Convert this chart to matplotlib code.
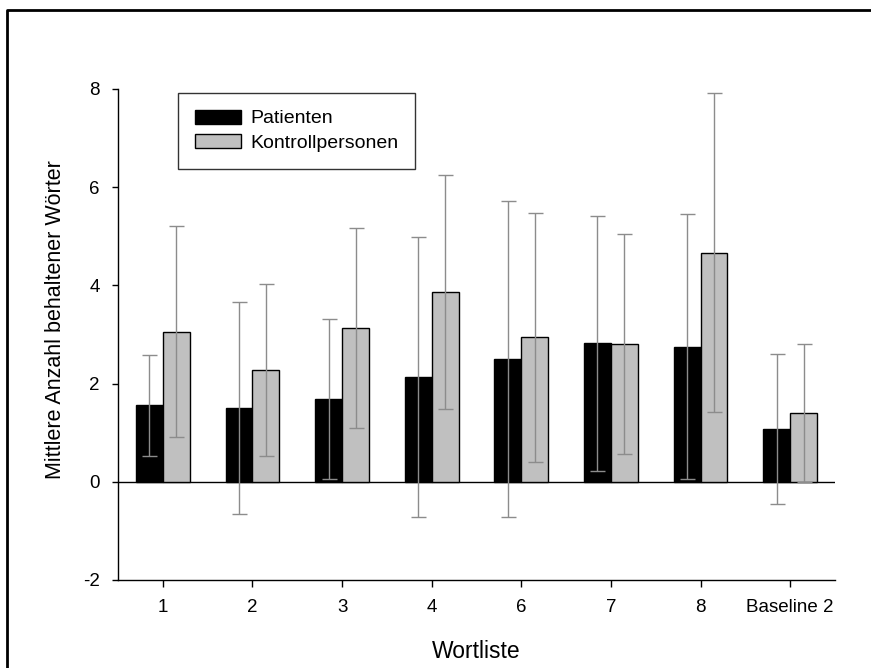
import matplotlib
matplotlib.use("Agg")
import matplotlib.pyplot as plt
from matplotlib.lines import Line2D
import numpy as np

plt.rcParams['font.family'] = ['Liberation Sans', 'DejaVu Sans']
plt.rcParams['axes.unicode_minus'] = False

categories = ["1", "2", "3", "4", "6", "7", "8", "Baseline 2"]
patienten_mean = [1.56, 1.50, 1.69, 2.13, 2.50, 2.82, 2.75, 1.07]
patienten_sd = [1.03, 2.16, 1.63, 2.85, 3.22, 2.59, 2.70, 1.53]
kontroll_mean = [3.06, 2.27, 3.13, 3.87, 2.94, 2.80, 4.67, 1.40]
kontroll_sd = [2.15, 1.75, 2.03, 2.38, 2.53, 2.24, 3.24, 1.40]

W, H = 871, 668
fig = plt.figure(figsize=(W / 100, H / 100), dpi=100)

# axes box in pixel coordinates
x0, x1 = 118, 835
y_top, y_bot = 89, 580
ax = fig.add_axes([x0 / W, 1 - y_bot / H, (x1 - x0) / W, (y_bot - y_top) / H])

x = np.arange(len(categories))
bw = 0.3
err_kw = dict(ecolor="#8c8c8c", elinewidth=1.0, capsize=5.4, capthick=1.0)

ax.bar(x - bw / 2, patienten_mean, bw, color="black", edgecolor="black",
       linewidth=1.0, label="Patienten", zorder=2)
ax.bar(x + bw / 2, kontroll_mean, bw, color="#c0c0c0", edgecolor="black",
       linewidth=1.0, label="Kontrollpersonen", zorder=2)
ax.errorbar(x - bw / 2, patienten_mean, yerr=patienten_sd, fmt="none", zorder=3, **err_kw)
ax.errorbar(x + bw / 2, kontroll_mean, yerr=kontroll_sd, fmt="none", zorder=3, **err_kw)

ax.axhline(0, color="black", linewidth=1.0, zorder=1.5)

ax.set_xlim(-0.5, len(categories) - 0.5)
ax.set_ylim(-2, 8)
ax.set_yticks([-2, 0, 2, 4, 6, 8])
ax.set_xticks(x)
ax.set_xticklabels(categories)

for s in ("top", "right"):
    ax.spines[s].set_visible(False)
ax.spines["left"].set_linewidth(1.0)
ax.spines["bottom"].set_linewidth(1.0)
ax.tick_params(axis="both", direction="out", width=1.0,
               labelsize=13.5, colors="black")
ax.tick_params(axis="y", length=4.5, pad=8.5)
ax.tick_params(axis="x", length=5, pad=9)

ax.set_xlabel("Wortliste", fontsize=16.5, labelpad=17)
ax.set_ylabel("Mittlere Anzahl behaltener Wörter", fontsize=15.5)
ax.yaxis.set_label_coords(-0.072, 0.53)

leg = ax.legend(loc="upper left",
                bbox_to_anchor=((178 - x0) / (x1 - x0), 1 - (93 - y_top) / (y_bot - y_top)),
                frameon=True, fancybox=False, edgecolor="black", fontsize=14,
                handlelength=2.37, handleheight=0.75, borderpad=0.85,
                labelspacing=0.35, handletextpad=0.5, borderaxespad=0)
leg.get_frame().set_linewidth(1.0)

# outer frame (top and left edges)
fig.add_artist(Line2D([7 / W, 7 / W, 1.0], [0.0, 1 - 10 / H, 1 - 10 / H],
                      transform=fig.transFigure, color="black", linewidth=2.0))

fig.savefig("out.png", dpi=100, facecolor="white")
